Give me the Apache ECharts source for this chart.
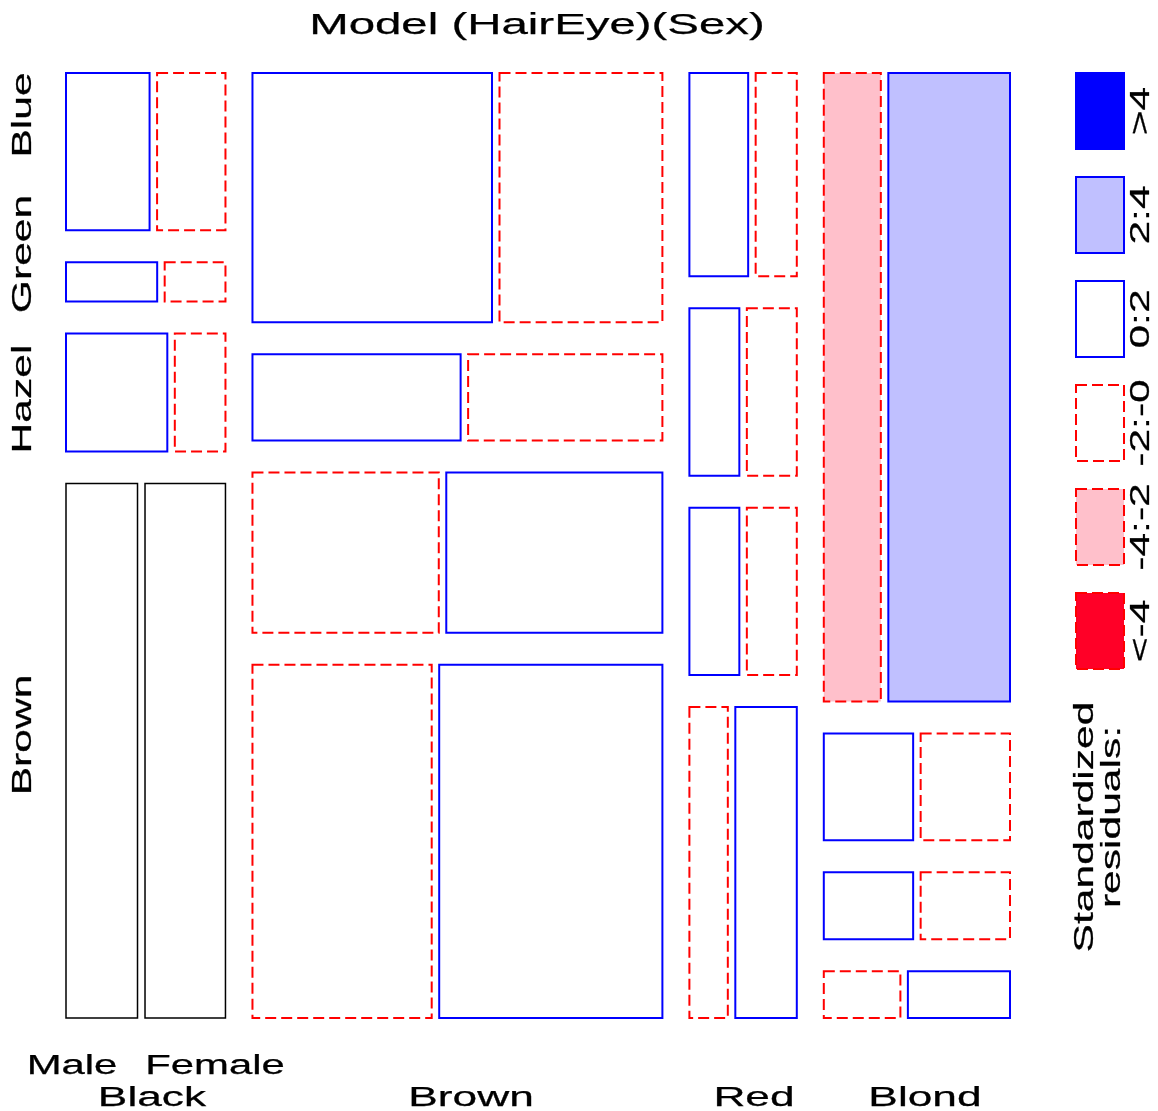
<!DOCTYPE html>
<html>
<head>
<meta charset="utf-8">
<script src="https://cdn.jsdelivr.net/npm/echarts@6/dist/echarts.min.js"></script>
<style>
  html, body { margin: 0; padding: 0; background: #fff; }
  #main { width: 1158px; height: 1111px; }
</style>
</head>
<body>
<div id="main"></div>
<script>
// HairEyeColor counts, eye order bottom -> top
let hairNames = ['Black', 'Brown', 'Red', 'Blond'];
let eyeNames = ['Brown', 'Hazel', 'Green', 'Blue'];
let sexNames = ['Male', 'Female'];
let maleCounts = [
  [32, 10, 3, 11],
  [53, 25, 15, 50],
  [10, 7, 7, 10],
  [3, 5, 8, 30]
];
let femaleCounts = [
  [36, 5, 2, 9],
  [66, 29, 14, 34],
  [16, 7, 7, 7],
  [4, 5, 8, 64]
];
let legendLabels = ['>4', '2:4', '0:2', '-2:-0', '-4:-2', '<-4'];

const FONT = '"Liberation Sans", Arial, sans-serif';
const BLUE = '#0000ff';
const RED = '#ff0000';

// gaps in axis units (axis spans 0..1)
const hairGap = 27 / 944;
const sexGap = 7.5 / 944;
const eyeGap = 32 / 945;

// totals for the (HairEye)(Sex) model
let total = 0, maleTotal = 0;
maleCounts.forEach((row, i) => row.forEach((m, j) => {
  maleTotal += m;
  total += m + femaleCounts[i][j];
}));
let femaleTotal = total - maleTotal;

function residual(obs, nij, nk) {
  let exp = nij * nk / total;
  return (obs - exp) / Math.sqrt(exp);
}

// build mosaic tiles
let tiles = [];
let wAvail = 1 - 3 * hairGap - 4 * sexGap;
let hAvail = 1 - 3 * eyeGap;
let x = 0;
hairNames.forEach((h, i) => {
  let rowTotals = maleCounts[i].map((m, j) => m + femaleCounts[i][j]);
  let hairTotal = rowTotals.reduce((a, b) => a + b, 0);
  let inner = hairTotal / total * wAvail;
  let y = 0;
  eyeNames.forEach((e, j) => {
    let nij = rowTotals[j];
    let rowH = nij / hairTotal * hAvail;
    let mW = maleCounts[i][j] / nij * inner;
    tiles.push([x, y, x + mW, y + rowH, residual(maleCounts[i][j], nij, maleTotal)]);
    tiles.push([x + mW + sexGap, y, x + inner + sexGap, y + rowH, residual(femaleCounts[i][j], nij, femaleTotal)]);
    y += rowH + eyeGap;
  });
  x += inner + sexGap + hairGap;
});

function tileStyle(r) {
  if (Math.abs(r) < 0.05) return { fill: '#fff', stroke: '#000', lineWidth: 1.5 };
  if (r > 4) return { fill: BLUE, stroke: BLUE, lineWidth: 2 };
  if (r > 2) return { fill: '#c0c0ff', stroke: BLUE, lineWidth: 2 };
  if (r >= 0) return { fill: '#fff', stroke: BLUE, lineWidth: 2 };
  if (r >= -2) return { fill: '#fff', stroke: RED, lineWidth: 2, lineDash: [11, 5] };
  if (r >= -4) return { fill: '#ffc0cb', stroke: RED, lineWidth: 2, lineDash: [11, 5] };
  return { fill: '#ff0027', stroke: RED, lineWidth: 2, lineDash: [11, 5] };
}

function txt(text, px, py, size, scale, rot) {
  return {
    type: 'text', x: px, y: py, rotation: rot || 0, scaleX: scale, scaleY: 1,
    silent: true,
    style: { text: text, x: 0, y: 0, align: 'center', verticalAlign: 'middle',
      font: 'normal ' + size + 'px ' + FONT, fill: '#000', stroke: '#000', lineWidth: 0.25 }
  };
}

let graphics = [];
graphics.push(txt('Model (HairEye)(Sex)', 537, 26, 30, 1.58));
let eyeLabelPos = { Blue: 115, Green: 254, Hazel: 399, Brown: 735 };
eyeNames.forEach(e => graphics.push(txt(e, 23, eyeLabelPos[e], 28, 1.52, Math.PI / 2)));
graphics.push(txt(sexNames[0], 72, 1067, 27, 1.55));
graphics.push(txt(sexNames[1], 215, 1067, 27, 1.55));
let hairLabelX = [152, 471, 754, 925];
hairNames.forEach((h, i) => graphics.push(txt(h, hairLabelX[i], 1099, 27, 1.64)));

// legend swatches
let legendRes = [5, 3, 1, -1, -3, -5];
legendLabels.forEach((lab, k) => {
  let st = tileStyle(legendRes[k]);
  let top = 73 + k * 104;
  graphics.push({
    type: 'rect', silent: true,
    shape: { x: 1076, y: top, width: 48, height: 76 },
    style: st
  });
  graphics.push(txt(lab, 1141, top + 38, 28, 1.52, Math.PI / 2));
});
graphics.push(txt('Standardized', 1085, 827, 28, 1.52, Math.PI / 2));
graphics.push(txt('residuals:', 1112, 817, 28, 1.52, Math.PI / 2));

let chart = echarts.init(document.getElementById('main'));
let option = {
  animation: false,
  backgroundColor: '#fff',
  grid: { left: 66, right: 148, top: 73, bottom: 93 },
  xAxis: { type: 'value', min: 0, max: 1, show: false },
  yAxis: { type: 'value', min: 0, max: 1, show: false },
  graphic: graphics,
  series: [{
    type: 'custom',
    data: tiles,
    encode: { x: [0, 2], y: [1, 3] },
    renderItem: function (params, api) {
      let p0 = api.coord([api.value(0), api.value(3)]);
      let p1 = api.coord([api.value(2), api.value(1)]);
      return {
        type: 'rect',
        shape: { x: p0[0], y: p0[1], width: p1[0] - p0[0], height: p1[1] - p0[1] },
        style: tileStyle(api.value(4))
      };
    }
  }]
};
chart.setOption(option);
</script>
</body>
</html>
